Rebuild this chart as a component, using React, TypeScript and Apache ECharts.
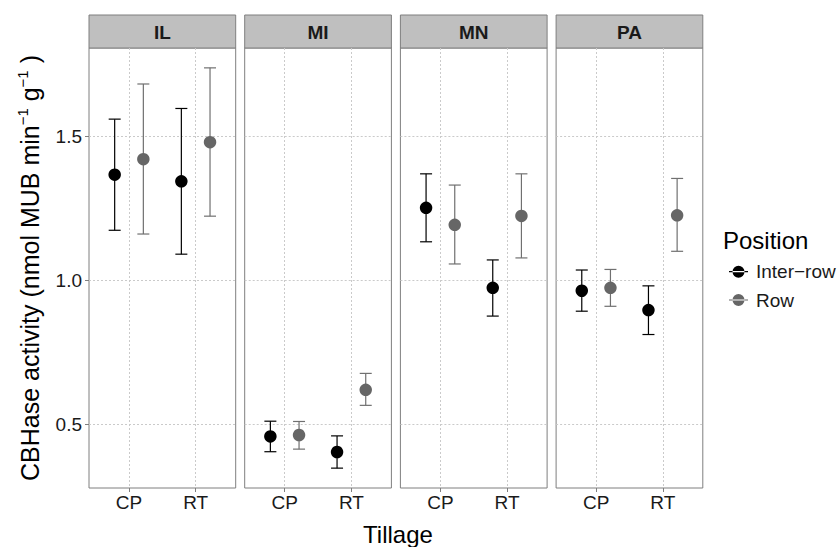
import React, { useEffect, useRef } from 'react';
import * as echarts from 'echarts';

const STATES = ['IL', 'MI', 'MN', 'PA'];
const TILLAGE = ['CP', 'RT'];
const POSITIONS = ['Inter−row', 'Row'];
const Y_TICKS = [0.5, 1.0, 1.5];

// values per state: [CP, RT]
const interRowMean = [[1.366, 1.343], [0.457, 0.403], [1.251, 0.973], [0.963, 0.896]];
const interRowLow = [[1.173, 1.090], [0.404, 0.347], [1.133, 0.875], [0.892, 0.811]];
const interRowHigh = [[1.559, 1.596], [0.510, 0.459], [1.369, 1.070], [1.035, 0.980]];
const rowMean = [[1.420, 1.479], [0.462, 0.619], [1.192, 1.223], [0.973, 1.225]];
const rowLow = [[1.160, 1.222], [0.413, 0.565], [1.056, 1.077], [0.909, 1.100]];
const rowHigh = [[1.681, 1.737], [0.509, 0.676], [1.330, 1.369], [1.037, 1.353]];

const FONT = '"Liberation Sans", Arial, Helvetica, sans-serif';
const PANEL_LEFT0 = 89;
const PANEL_W = 146.7;
const PANEL_STEP = 155.7;
const PANEL_TOP = 48;
const PANEL_H = 440;
const STRIP_TOP = 15;
const DODGE = 0.215;
const COLORS = ['#000000', '#666666'];
const BAR_COLORS = ['#000000', '#707070'];
const GRID_LINE = { color: '#cacaca', type: [2, 2], width: 1 };

function errorBarRender(color: string) {
  return (params: any, api: any) => {
    const x = api.value(0);
    const lo = api.value(1);
    const hi = api.value(2);
    const pLo = api.coord([x, lo]);
    const pHi = api.coord([x, hi]);
    const hw = 6;
    const style = { stroke: color, lineWidth: 1.2 };
    return {
      type: 'group',
      children: [
        { type: 'line', shape: { x1: pLo[0], y1: pLo[1], x2: pHi[0], y2: pHi[1] }, style },
        { type: 'line', shape: { x1: pLo[0] - hw, y1: pLo[1], x2: pLo[0] + hw, y2: pLo[1] }, style },
        { type: 'line', shape: { x1: pHi[0] - hw, y1: pHi[1], x2: pHi[0] + hw, y2: pHi[1] }, style },
      ],
    };
  };
}

export default function App() {
  const ref = useRef<HTMLDivElement>(null);
  useEffect(() => {
    if (!ref.current) return;
    const chart = echarts.init(ref.current, undefined, { renderer: 'svg' });
    const grids: any[] = [];
    const xAxes: any[] = [];
    const yAxes: any[] = [];
    const series: any[] = [];
    const graphics: any[] = [];
    const means = [interRowMean, rowMean];
    const lows = [interRowLow, rowLow];
    const highs = [interRowHigh, rowHigh];

    STATES.forEach((st, i) => {
      const left = PANEL_LEFT0 + i * PANEL_STEP;
      grids.push({
        left, top: PANEL_TOP, width: PANEL_W, height: PANEL_H,
        show: true, borderColor: '#7f7f7f', borderWidth: 1, backgroundColor: '#ffffff',
        containLabel: false, outerBoundsMode: 'none',
      });
      xAxes.push({
        type: 'value', gridIndex: i, min: 0.4, max: 2.6,
        axisLine: { show: false },
        axisTick: { show: true, customValues: [1, 2], length: 4, lineStyle: { color: '#7f7f7f' } },
        axisLabel: {
          show: true, customValues: [1, 2], margin: 5,
          formatter: (v: number) => TILLAGE[Math.round(v) - 1] ?? '',
          fontSize: 19, color: '#1a1a1a', fontFamily: FONT,
        },
        splitLine: { show: true, lineStyle: GRID_LINE },
      });
      yAxes.push({
        type: 'value', gridIndex: i, min: 0.278, max: 1.806,
        axisLine: { show: false },
        axisTick: { show: i === 0, customValues: Y_TICKS, length: 4, lineStyle: { color: '#7f7f7f' } },
        axisLabel: {
          show: i === 0, customValues: Y_TICKS, margin: 7,
          formatter: (v: number) => v.toFixed(1),
          fontSize: 19, color: '#1a1a1a', fontFamily: FONT,
        },
        splitLine: { show: true, lineStyle: GRID_LINE },
      });
      [0, 1].forEach((p) => {
        const off = p === 0 ? -DODGE : DODGE;
        series.push({
          type: 'custom', name: 'bars-' + p, xAxisIndex: i, yAxisIndex: i,
          renderItem: errorBarRender(BAR_COLORS[p]),
          encode: { x: 0, y: [1, 2] },
          data: TILLAGE.map((_, t) => [t + 1 + off, lows[p][i][t], highs[p][i][t]]),
          z: 2,
        });
      });
      [0, 1].forEach((p) => {
        const off = p === 0 ? -DODGE : DODGE;
        series.push({
          type: 'scatter', name: POSITIONS[p], xAxisIndex: i, yAxisIndex: i,
          symbol: 'circle', symbolSize: 12.5,
          itemStyle: { color: COLORS[p], opacity: 1 },
          data: TILLAGE.map((_, t) => [t + 1 + off, means[p][i][t]]),
          z: 3,
        });
      });
      graphics.push({
        type: 'rect', shape: { x: left, y: STRIP_TOP, width: PANEL_W, height: PANEL_TOP - STRIP_TOP },
        style: { fill: '#bfbfbf', stroke: '#7f7f7f', lineWidth: 1 },
      });
      graphics.push({
        type: 'text', x: left + PANEL_W / 2, y: (STRIP_TOP + PANEL_TOP) / 2 + 1,
        style: { text: st, fontSize: 19, fontWeight: 'bold', fill: '#1a1a1a', fontFamily: FONT, align: 'center', verticalAlign: 'middle' },
      });
    });

    graphics.push({
      type: 'text', x: 30, y: PANEL_TOP + PANEL_H / 2, rotation: Math.PI / 2,
      style: {
        text: '{n|CBHase activity (nmol MUB min}{s|−1}{n| g}{s|−1}{n| )}',
        align: 'center', verticalAlign: 'middle', fill: '#000',
        rich: {
          n: { fontSize: 25, lineHeight: 31, fontFamily: FONT, fill: '#000' },
          s: { fontSize: 15, lineHeight: 17, verticalAlign: 'top', fontFamily: FONT, fill: '#000' },
        },
      },
    });
    graphics.push({
      type: 'text', x: 398, y: 534,
      style: { text: 'Tillage', fontSize: 24, fontFamily: FONT, fill: '#000', align: 'center', verticalAlign: 'middle' },
    });
    graphics.push({
      type: 'text', x: 723, y: 240,
      style: { text: 'Position', fontSize: 24, fontFamily: FONT, fill: '#000', align: 'left', verticalAlign: 'middle' },
    });

    chart.setOption({
      animation: false,
      backgroundColor: '#ffffff',
      grid: grids,
      xAxis: xAxes,
      yAxis: yAxes,
      series,
      graphic: graphics,
      legend: {
        data: POSITIONS, orient: 'vertical', left: 724, top: 256.7,
        itemWidth: 19, itemHeight: 12, itemGap: 8.3,
        icon: 'path://M0,5.4h19v1.2h-19z M3.5,6a6,6 0 1,0 12,0a6,6 0 1,0 -12,0z',
        selectedMode: false,
        textStyle: { fontSize: 19, lineHeight: 20, color: '#1a1a1a', fontFamily: FONT, padding: [0, 0, 0, 3] },
      },
    });
    return () => chart.dispose();
  }, []);
  return <div ref={ref} style={{ position: 'fixed', left: 0, top: 0, width: 837, height: 547 }} />;
}
